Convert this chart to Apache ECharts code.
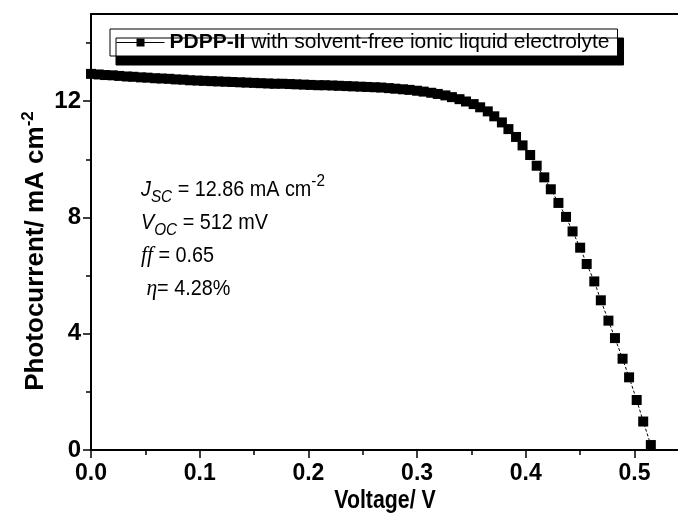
<!DOCTYPE html>
<html>
<head>
<meta charset="utf-8">
<script src="https://cdn.jsdelivr.net/npm/echarts@6/dist/echarts.min.js"></script>
<style>
  html, body { margin: 0; padding: 0; background: #fff; }
  #chart { width: 678px; height: 529px; }
</style>
</head>
<body>
<div id="chart"></div>
<script>
// J-V curve (V in volts, J in mA cm^-2)
const voltage = [
  0.000, 0.007, 0.013, 0.020, 0.026, 0.033, 0.039, 0.046, 0.052, 0.059,
  0.065, 0.072, 0.078, 0.085, 0.091, 0.098, 0.104, 0.111, 0.117, 0.124,
  0.130, 0.137, 0.143, 0.150, 0.156, 0.163, 0.169, 0.176, 0.183, 0.189,
  0.196, 0.202, 0.209, 0.215, 0.222, 0.228, 0.235, 0.241, 0.248, 0.254,
  0.261, 0.267, 0.274, 0.280, 0.287, 0.293, 0.300, 0.306, 0.313, 0.319,
  0.326, 0.332, 0.339, 0.345, 0.352, 0.358, 0.365, 0.371, 0.378, 0.384,
  0.391, 0.397, 0.404, 0.410, 0.417, 0.423, 0.430, 0.437, 0.443, 0.450,
  0.456, 0.463, 0.469, 0.476, 0.482, 0.489, 0.495, 0.502, 0.508, 0.515
];
const photocurrent = [
  12.94, 12.92, 12.90, 12.89, 12.87, 12.85, 12.84, 12.82, 12.81, 12.79,
  12.78, 12.77, 12.75, 12.74, 12.72, 12.71, 12.70, 12.69, 12.68, 12.67,
  12.66, 12.65, 12.64, 12.63, 12.62, 12.61, 12.60, 12.60, 12.59, 12.58,
  12.57, 12.56, 12.55, 12.55, 12.54, 12.53, 12.52, 12.51, 12.50, 12.49,
  12.48, 12.47, 12.45, 12.43, 12.41, 12.39, 12.36, 12.33, 12.29, 12.25,
  12.20, 12.14, 12.07, 11.99, 11.90, 11.79, 11.65, 11.48, 11.27, 11.04,
  10.77, 10.48, 10.15, 9.78, 9.38, 8.97, 8.50, 8.02, 7.52, 6.96,
  6.40, 5.80, 5.15, 4.45, 3.85, 3.14, 2.50, 1.72, 0.98, 0.17
];
const seriesName = 'PDPP-II';
const xTicks = [0.0, 0.1, 0.2, 0.3, 0.4, 0.5];
const xMinorTicks = [0.05, 0.15, 0.25, 0.35, 0.45];
const yTicks = [0, 4, 8, 12];
const yMinorTicks = [2, 6, 10, 14];

const FONT = 'Liberation Sans';
const NARROW = "'Liberation Sans Narrow', 'Liberation Sans'";
const points = voltage.map((v, i) => [v, photocurrent[i]]);
const axisBlack = { color: '#000', width: 2 };

const chart = echarts.init(document.getElementById('chart'), null, { renderer: 'canvas' });
chart.setOption({
  backgroundColor: '#fff',
  animation: false,
  grid: { left: 91, right: 0, top: 14, bottom: 79 },
  legend: {
    left: 110, top: 29,
    data: [seriesName],
    itemWidth: 48, itemHeight: 10, itemGap: 4,
    padding: [3, 8, 3, 6],
    backgroundColor: '#fff',
    borderColor: '#000', borderWidth: 1,
    shadowColor: '#000', shadowBlur: 0, shadowOffsetX: 6, shadowOffsetY: 9,
    lineStyle: { type: 'solid', width: 1 },
    formatter: () => '{b|PDPP-II} with solvent-free ionic liquid electrolyte',
    textStyle: {
      fontFamily: FONT, fontSize: 21, color: '#000',
      rich: { b: { fontFamily: FONT, fontSize: 21, fontWeight: 'bold', color: '#000' } }
    }
  },
  xAxis: [
    {
      type: 'value', min: 0, max: 0.54,
      axisLine: { lineStyle: axisBlack },
      axisTick: { customValues: xTicks, length: 8, lineStyle: { width: 1.5 } },
      splitLine: { show: false },
      axisLabel: {
        customValues: xTicks, margin: 12, color: '#000',
        fontFamily: NARROW, fontSize: 23, fontWeight: 'bold',
        formatter: v => v.toFixed(1)
      }
    },
    {
      // minor ticks on the bottom axis
      type: 'value', position: 'bottom', min: 0, max: 0.54,
      axisLine: { show: false },
      axisTick: { customValues: xMinorTicks, length: 5, lineStyle: { color: '#000', width: 1.5 } },
      axisLabel: { show: false }, splitLine: { show: false }
    },
    {
      // frame line on top
      type: 'value', position: 'top', min: 0, max: 0.54,
      axisLine: { show: true, lineStyle: axisBlack },
      axisTick: { show: false }, axisLabel: { show: false }, splitLine: { show: false }
    }
  ],
  yAxis: [
    {
      type: 'value', min: 0, max: 15,
      axisLine: { lineStyle: axisBlack },
      axisTick: { customValues: yTicks, length: 8, lineStyle: { width: 1.5 } },
      splitLine: { show: false },
      axisLabel: {
        customValues: yTicks, margin: 10, color: '#000',
        fontFamily: NARROW, fontSize: 24, fontWeight: 'bold'
      }
    },
    {
      type: 'value', position: 'left', min: 0, max: 15,
      axisLine: { show: false },
      axisTick: { customValues: yMinorTicks, length: 5, lineStyle: { color: '#000', width: 1.5 } },
      axisLabel: { show: false }, splitLine: { show: false }
    }
  ],
  series: [{
    name: seriesName,
    type: 'line',
    xAxisIndex: 0, yAxisIndex: 0,
    data: points,
    symbol: 'rect',
    symbolSize: 10,
    itemStyle: { color: '#000' },
    lineStyle: { color: '#000', width: 1, type: [3, 2] },
    z: 3
  }],
  graphic: [
    {
      type: 'text', x: 385, y: 501, scaleX: 0.82,
      style: {
        text: 'Voltage/ V', align: 'center', verticalAlign: 'middle',
        fontFamily: FONT, fontSize: 26, fontWeight: 'bold', fill: '#000'
      }
    },
    {
      type: 'text', x: 36, y: 251, rotation: Math.PI / 2,
      style: {
        text: '{m|Photocurrent/ mA cm}{s|-2}',
        align: 'center', verticalAlign: 'middle',
        rich: {
          m: { fontFamily: FONT, fontSize: 26, fontWeight: 'bold', fill: '#000', lineHeight: 32, verticalAlign: 'middle' },
          s: { fontFamily: FONT, fontSize: 17, fontWeight: 'bold', fill: '#000', lineHeight: 16, verticalAlign: 'top' }
        }
      }
    },
    {
      type: 'text', x: 141, y: 173, scaleX: 0.9,
      style: {
        text: [
          '{i|J}{sub|SC}{m| = 12.86 mA cm}{sup|-2}',
          '{i|V}{sub|OC}{m| = 512 mV}',
          '{f|ff}{m| = 0.65}',
          '{e| η}{m|= 4.28%}'
        ].join('\n'),
        rich: {
          m: { fontFamily: FONT, fontSize: 22, fill: '#000', lineHeight: 33, verticalAlign: 'middle' },
          i: { fontFamily: FONT, fontSize: 22, fontStyle: 'italic', fill: '#000', lineHeight: 33, verticalAlign: 'middle' },
          sub: { fontFamily: FONT, fontSize: 17, fontStyle: 'italic', fill: '#000', lineHeight: 14, verticalAlign: 'bottom' },
          sup: { fontFamily: FONT, fontSize: 17, fill: '#000', lineHeight: 14, verticalAlign: 'top' },
          f: { fontFamily: 'Liberation Serif', fontSize: 24, fontStyle: 'italic', fill: '#000', lineHeight: 33, verticalAlign: 'middle' },
          e: { fontFamily: 'Liberation Serif', fontSize: 24, fontStyle: 'italic', fill: '#000', lineHeight: 33, verticalAlign: 'middle' }
        }
      }
    }
  ]
});
window.addEventListener('resize', () => chart.resize());
</script>
</body>
</html>
